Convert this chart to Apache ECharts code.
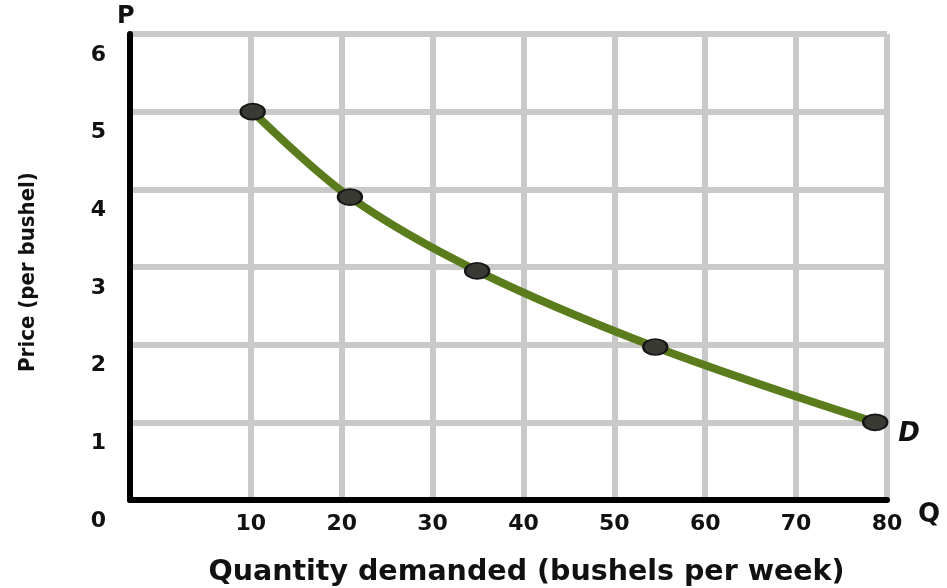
<!DOCTYPE html>
<html>
<head>
<meta charset="utf-8">
<script src="https://cdn.jsdelivr.net/npm/echarts@6/dist/echarts.min.js"></script>
<style>
html,body{margin:0;padding:0;background:#fff;}
#chart{width:947px;height:588px;}
</style>
</head>
<body>
<div id="chart"></div>
<script>
// Data
const quantity = [10.2, 20.9, 34.9, 54.5, 78.7];
const price = [5.0, 3.9, 2.95, 1.97, 1.0];
const xTickValues = [10, 20, 30, 40, 50, 60, 70, 80];
const yTickValues = [0, 1, 2, 3, 4, 5, 6];
const curveLabel = 'D';
const xTitle = 'Quantity demanded (bushels per week)';
const yTitle = 'Price (per bushel)';
const xShort = 'Q';
const yShort = 'P';

const chart = echarts.init(document.getElementById('chart'), null, {renderer: 'canvas'});
const gridColor = '#c9c9c9';
const tickFont = {fontFamily: 'DejaVu Sans', fontWeight: 'bold', fontSize: 22, color: '#111'};

const option = {
  backgroundColor: '#ffffff',
  animation: false,
  title: [
    {text: yShort, left: 117, top: 5, padding: 0,
      textStyle: {fontFamily: 'DejaVu Sans', fontWeight: 'bold', fontSize: 24, color: '#111'}},
    {text: xShort, left: 918, top: 502, padding: 0,
      textStyle: {fontFamily: 'DejaVu Sans', fontWeight: 'bold', fontSize: 26, color: '#111'}}
  ],
  grid: {left: 130, right: 60, top: 34, bottom: 88, outerBoundsMode: 'none', containLabel: false},
  xAxis: {
    type: 'value', min: -3.3, max: 80,
    axisLine: {show: true, onZero: false, lineStyle: {color: '#000', width: 6}},
    axisTick: {show: false, customValues: xTickValues},
    axisLabel: Object.assign({show: true, customValues: xTickValues, margin: 13}, tickFont),
    splitLine: {show: true, lineStyle: {color: gridColor, width: 6}},
    name: xTitle, nameLocation: 'middle', nameGap: 58,
    nameTextStyle: {fontFamily: 'DejaVu Sans', fontWeight: 'bold', fontSize: 28.5, color: '#111', padding: [0, 0, 0, 36]}
  },
  yAxis: {
    type: 'value', min: 0, max: 6, interval: 1,
    axisLine: {show: true, onZero: false, lineStyle: {color: '#000', width: 6}},
    axisTick: {show: false},
    axisLabel: {show: true, margin: 24, customValues: yTickValues,
      formatter: v => '{p|' + v + '}',
      rich: {p: Object.assign({padding: [42, 0, 0, 0]}, tickFont)}},
    splitLine: {show: true, lineStyle: {color: gridColor, width: 6}},
    name: yTitle, nameLocation: 'middle', nameGap: 91, nameRotate: 90,
    nameTextStyle: {fontFamily: '"DejaVu Sans Condensed", "Liberation Sans"', fontWeight: 'bold', fontSize: 22, color: '#111', padding: [0, 10, 0, 0]}
  },
  series: [{
    type: 'line',
    data: quantity.map((q, i) => [q, price[i]]),
    smooth: 0.35,
    symbol: 'circle',
    symbolSize: [24, 16],
    lineStyle: {color: '#5b7c1d', width: 8},
    itemStyle: {color: '#3a3a35', borderColor: '#151515', borderWidth: 2},
    endLabel: {show: true, formatter: curveLabel, distance: 20, offset: [3, 12],
      fontFamily: 'DejaVu Sans', fontWeight: 'bold', fontStyle: 'italic', fontSize: 26, color: '#111'},
    z: 5
  }]
};
chart.setOption(option);
</script>
</body>
</html>
